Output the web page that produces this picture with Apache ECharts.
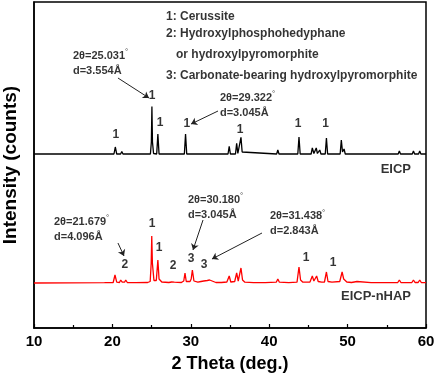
<!DOCTYPE html>
<html>
<head>
<meta charset="utf-8">
<script src="https://cdn.jsdelivr.net/npm/echarts@6/dist/echarts.min.js"></script>
<style>
  html, body { margin: 0; padding: 0; background: #fff; }
  #chart { width: 436px; height: 375px; }
</style>
</head>
<body>
<div id="chart"></div>
<script>
// 2θ (deg.), intensity above each pattern's own baseline (counts)
const eicpPattern = [
    [10, 0], [20.2, 0], [20.37, 70], [20.55, 0], [21.05, 0], [21.2, 25], [21.35, 0],
    [24.85, 0], [24.97, 120], [25.04, 476], [25.11, 120], [25.25, 5], [25.65, 0], [25.8, 200], [25.95, 0],
    [29.18, 0], [29.33, 200], [29.48, 0],
    [31.05, 0], [31.2, 20], [31.35, 0],
    [34.75, 0], [34.9, 76], [35.05, 0], [35.7, 0], [35.85, 106], [36.0, 5], [36.25, 0], [36.4, 166], [36.55, 20], [36.8, 0],
    [40.95, 0], [41.1, 40], [41.25, 0],
    [43.65, 0], [43.8, 170], [43.95, 0],
    [45.35, 0], [45.5, 60], [45.7, 5], [45.85, 0], [46.0, 60], [46.15, 5], [46.3, 0], [46.45, 40], [46.6, 0],
    [47.15, 0], [47.3, 160], [47.45, 0],
    [49.05, 0], [49.2, 140], [49.35, 20], [49.55, 50], [49.7, 0],
    [50.95, 0], [51.1, 20], [51.25, 0],
    [56.45, 0], [56.6, 30], [56.75, 0],
    [58.25, 0], [58.4, 30], [58.55, 0],
    [59.05, 0], [59.2, 30], [59.35, 0], [60, 0]
];
const nhapPattern = [
    [10, 0], [19.0, 3], [20.1, 5], [20.33, 80], [20.55, 8], [20.9, 5], [21.06, 30], [21.25, 8], [21.55, 8], [21.7, 30], [21.9, 5],
    [23.0, 3], [24.5, 5], [24.82, 15], [24.95, 200], [25.02, 470], [25.1, 200], [25.3, 25], [25.6, 25], [25.8, 230], [25.95, 40], [26.3, 10],
    [27.2, 5], [27.55, 10], [27.7, 25], [27.9, 8], [28.8, 5], [29.1, 20], [29.26, 100], [29.42, 15], [29.9, 15], [30.05, 40], [30.2, 130], [30.4, 20], [30.9, 8],
    [31.3, 15], [31.45, 35], [31.65, 20], [31.9, 40], [32.1, 25], [32.4, 30], [32.6, 10], [33.2, 5], [33.9, 5],
    [34.6, 10], [34.9, 70], [35.1, 10], [35.6, 15], [35.85, 100], [36.05, 20], [36.2, 35], [36.4, 150], [36.6, 30], [36.9, 8],
    [38, 4], [39.5, 3], [40.9, 8], [41.1, 40], [41.3, 8], [42.5, 3],
    [43.55, 8], [43.8, 160], [44.0, 30], [44.3, 8], [45.2, 10], [45.5, 70], [45.7, 20], [45.85, 20], [46.05, 70], [46.25, 15], [46.7, 8],
    [47.05, 10], [47.3, 110], [47.5, 15], [48.0, 8], [49.0, 15], [49.3, 110], [49.5, 40], [49.7, 50], [49.9, 10], [50.5, 5], [51.2, 15], [51.4, 3],
    [53, 3], [55, 3], [56.4, 5], [56.6, 30], [56.8, 5], [57.5, 3], [58.2, 5], [58.4, 30], [58.6, 5], [59.0, 5], [59.2, 30], [59.4, 5], [60, 3]
];

// phase numbers above peaks: [2θ, counts, text]
const peakTags = [
    [20.45, 1930, '1'], [25.05, 2320, '1'], [26.07, 2050, '1'], [29.5, 2040, '1'],
    [36.3, 1980, '1'], [43.7, 2040, '1'], [47.2, 2040, '1'],
    [21.6, 630, '2'], [25.05, 1040, '1'], [25.94, 800, '1'], [27.73, 620, '2'],
    [30.03, 690, '3'], [31.68, 630, '3'], [44.7, 700, '1'], [48.14, 650, '1']
];
const peakNotes = [
    [14.97, 2650, '25.031', '3.554'],
    [33.72, 2230, '29.322', '3.045'],
    [12.55, 990, '21.679', '4.096'],
    [29.64, 1210, '30.180', '3.045'],
    [40.1, 1045, '31.438', '2.843']
];
const phaseKey = [
    [26.84, 3110, '1: Cerussite'],
    [26.84, 2940, '2: Hydroxylphosphohedyphane'],
    [28.11, 2730, 'or hydroxylpyromorphite'],
    [26.84, 2520, '3: Carbonate-bearing hydroxylpyromorphite']
];
const sampleNames = [[58.09, 1590, 'EICP'], [58.09, 320, 'EICP-nHAP']];
// arrows: from note to peak
const arrows = [
    [[20.71, 2500], [24.67, 2300]],
    [[33.47, 2170], [30.03, 2040]],
    [[20.71, 850], [21.48, 720]],
    [[31.56, 1080], [30.28, 780]],
    [[39.08, 950], [32.7, 690]]
];

const eicpOffset = 1740;
const nhapOffset = 450;
const font = 'Liberation Sans, Arial, sans-serif';

let chart = echarts.init(document.getElementById('chart'));

function shift(arr, off) {
    return arr.map(p => [p[0], p[1] + off]);
}

let option = {
    animation: false,
    grid: {
        left: 34, right: 10, top: 2, bottom: 47,
        outerBoundsMode: 'none',
        show: true, borderColor: '#000', borderWidth: 1.5
    },
    xAxis: {
        type: 'value',
        min: 10, max: 60, interval: 10,
        name: '2 Theta (deg.)',
        nameLocation: 'middle',
        nameGap: 27,
        nameTextStyle: { fontFamily: font, fontWeight: 'bold', fontSize: 18, color: '#000' },
        axisLine: { lineStyle: { color: '#000', width: 1.5 } },
        axisTick: { inside: true, length: 4, lineStyle: { color: '#000', width: 1.2 } },
        minorTick: { show: true, splitNumber: 2, length: 3, lineStyle: { color: '#000', width: 1.2 } },
        axisLabel: { margin: 6, fontFamily: font, fontWeight: 'bold', fontSize: 15, color: '#000' },
        splitLine: { show: false }
    },
    yAxis: {
        type: 'value',
        min: 0, max: 3260,
        name: 'Intensity (counts)',
        nameLocation: 'middle',
        nameGap: 14,
        nameTextStyle: { fontFamily: font, fontWeight: 'bold', fontSize: 19, color: '#000' },
        axisLine: { show: true, lineStyle: { color: '#000', width: 1.5 } },
        axisTick: { show: false },
        axisLabel: { show: false },
        splitLine: { show: false }
    },
    series: [
        {
            name: 'EICP',
            type: 'line',
            data: shift(eicpPattern, eicpOffset),
            showSymbol: false,
            lineStyle: { color: '#000', width: 1.3 },
            markLine: {
                silent: true,
                symbol: ['none', 'arrow'],
                symbolSize: 6,
                label: { show: false },
                lineStyle: { color: '#222', width: 1, type: 'solid' },
                data: arrows.map(a => [{ coord: a[0] }, { coord: a[1] }])
            }
        },
        {
            name: 'EICP-nHAP',
            type: 'line',
            data: shift(nhapPattern, nhapOffset),
            showSymbol: false,
            lineStyle: { color: '#ff0000', width: 1.3 }
        },
        {
            type: 'scatter',
            symbolSize: 0,
            silent: true,
            data: peakTags,
            label: {
                show: true, position: 'inside',
                formatter: p => p.value[2],
                fontFamily: font, fontWeight: 'bold', fontSize: 12, color: '#000'
            }
        },
        {
            type: 'scatter',
            symbolSize: 0,
            silent: true,
            data: peakNotes,
            label: {
                show: true, position: 'right', distance: 0,
                formatter: p => '{a|2θ=' + p.value[2] + '}{s|°}\n{a|d=' + p.value[3] + 'Å}',
                rich: {
                    a: { fontFamily: font, fontWeight: 'bold', fontSize: 11, color: '#000', lineHeight: 15 },
                    s: { fontFamily: font, fontSize: 8, color: '#000', verticalAlign: 'top', lineHeight: 15 }
                }
            }
        },
        {
            type: 'scatter',
            symbolSize: 0,
            silent: true,
            data: phaseKey,
            label: {
                show: true, position: 'right', distance: 0,
                formatter: p => p.value[2],
                fontFamily: font, fontWeight: 'bold', fontSize: 12, color: '#000'
            }
        },
        {
            type: 'scatter',
            symbolSize: 0,
            silent: true,
            data: sampleNames,
            label: {
                show: true, position: 'left', distance: 0,
                formatter: p => p.value[2],
                fontFamily: font, fontWeight: 'bold', fontSize: 13, color: '#000'
            }
        }
    ]
};

chart.setOption(option);
</script>
</body>
</html>
